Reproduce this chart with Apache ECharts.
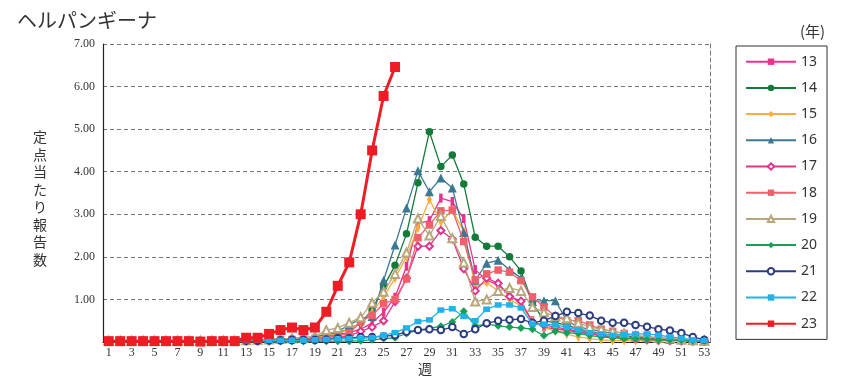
<!DOCTYPE html>
<html><head><meta charset="utf-8">
<script src="https://cdn.jsdelivr.net/npm/echarts@6/dist/echarts.min.js"></script>
<style>html,body{margin:0;padding:0;background:#fff}#c{width:850px;height:383px}</style>
</head><body><div id="c"></div>
<script>
const weeks = Array.from({length:53},(_,i)=>String(i+1));
const yTicks = [1,2,3,4,5,6,7];
const s13 = [0.02,0.02,0.02,0.02,0.02,0.02,0.02,0.02,0.02,0.02,0.02,0.02,0.03,0.03,0.04,0.05,0.06,0.07,0.1,0.13,0.18,0.22,0.3,0.45,0.7,1.05,1.78,2.78,2.85,3.38,3.3,2.9,1.7,1.45,1.35,1.1,0.9,0.5,0.35,0.3,0.28,0.22,0.2,0.15,0.12,0.1,0.08,0.07,0.05,0.05,0.04,0.03,0.02];
const s14 = [0.03,0.03,0.03,0.03,0.03,0.03,0.03,0.03,0.03,0.03,0.03,0.03,0.04,0.05,0.05,0.05,0.06,0.07,0.1,0.15,0.22,0.3,0.45,0.75,1.3,1.8,2.54,3.74,4.94,4.12,4.39,3.71,2.46,2.25,2.25,2.0,1.67,0.92,0.5,0.45,0.4,0.3,0.25,0.2,0.15,0.12,0.1,0.08,0.06,0.05,0.04,0.03,0.03];
const s15 = [0.03,0.03,0.03,0.03,0.03,0.03,0.03,0.03,0.03,0.03,0.03,0.03,0.04,0.05,0.06,0.07,0.08,0.09,0.1,0.15,0.2,0.3,0.45,0.7,1.06,1.5,2.0,2.68,3.35,2.82,3.1,2.6,1.3,1.4,1.2,1.0,0.85,0.5,0.35,0.25,0.18,0.12,0.08,0.05,0.03,0.03,0.03,0.03,0.03,0.03,0.02,0.02,0.02];
const s16 = [0.03,0.03,0.03,0.03,0.03,0.03,0.03,0.03,0.03,0.03,0.03,0.03,0.04,0.05,0.06,0.07,0.08,0.1,0.12,0.18,0.25,0.4,0.55,0.6,1.45,2.28,3.15,4.02,3.53,3.85,3.62,2.57,1.45,1.85,1.92,1.7,1.5,0.95,0.97,0.97,0.5,0.35,0.3,0.25,0.2,0.15,0.12,0.1,0.08,0.06,0.05,0.04,0.03];
const s17 = [0.02,0.02,0.02,0.02,0.02,0.02,0.02,0.02,0.02,0.02,0.02,0.02,0.03,0.03,0.03,0.04,0.05,0.05,0.06,0.08,0.1,0.15,0.25,0.35,0.5,0.95,1.5,2.25,2.25,2.62,2.42,1.72,1.2,1.5,1.38,1.07,0.96,0.45,0.4,0.35,0.3,0.25,0.2,0.15,0.12,0.1,0.08,0.06,0.05,0.04,0.03,0.02,0.02];
const s18 = [0.03,0.03,0.03,0.03,0.03,0.03,0.03,0.03,0.03,0.03,0.03,0.03,0.04,0.04,0.05,0.05,0.06,0.07,0.08,0.1,0.15,0.2,0.48,0.63,0.9,1.0,1.48,2.45,2.75,3.08,3.1,2.36,1.46,1.6,1.69,1.64,1.44,1.06,0.82,0.6,0.5,0.5,0.4,0.3,0.25,0.2,0.15,0.12,0.1,0.08,0.05,0.03,0.02];
const s19 = [0.03,0.03,0.03,0.03,0.03,0.03,0.03,0.03,0.03,0.03,0.03,0.03,0.04,0.05,0.06,0.07,0.08,0.1,0.12,0.28,0.33,0.45,0.58,0.92,1.18,1.6,2.1,2.9,2.5,2.96,2.44,1.87,0.95,1.0,1.2,1.27,1.2,0.82,0.7,0.6,0.56,0.45,0.35,0.3,0.25,0.2,0.15,0.12,0.1,0.08,0.06,0.04,0.03];
const s20 = [0.01,0.01,0.01,0.01,0.01,0.01,0.01,0.01,0.01,0.01,0.01,0.01,0.01,0.01,0.01,0.01,0.01,0.01,0.02,0.02,0.02,0.02,0.03,0.05,0.08,0.1,0.2,0.28,0.32,0.37,0.47,0.72,0.38,0.42,0.38,0.35,0.33,0.3,0.15,0.25,0.22,0.2,0.15,0.12,0.1,0.08,0.08,0.06,0.05,0.05,0.04,0.03,0.03];
const s21 = [0.02,0.02,0.02,0.02,0.02,0.02,0.02,0.02,0.02,0.02,0.02,0.02,0.03,0.03,0.04,0.04,0.05,0.05,0.05,0.06,0.09,0.09,0.12,0.12,0.13,0.16,0.24,0.28,0.3,0.28,0.35,0.19,0.3,0.44,0.5,0.52,0.54,0.45,0.5,0.61,0.71,0.68,0.62,0.5,0.45,0.45,0.4,0.36,0.3,0.27,0.21,0.12,0.05];
const s22 = [0.02,0.02,0.02,0.02,0.02,0.02,0.02,0.02,0.02,0.02,0.02,0.02,0.03,0.04,0.04,0.04,0.04,0.04,0.05,0.06,0.07,0.08,0.09,0.1,0.16,0.22,0.33,0.48,0.52,0.75,0.78,0.6,0.5,0.77,0.87,0.87,0.8,0.42,0.42,0.4,0.35,0.28,0.22,0.19,0.16,0.17,0.19,0.19,0.16,0.12,0.09,0.05,0.03];
const s23 = [0.02,0.02,0.02,0.02,0.02,0.02,0.02,0.02,0.01,0.02,0.02,0.02,0.1,0.1,0.19,0.28,0.34,0.28,0.34,0.71,1.32,1.87,3.0,4.5,5.78,6.46];

const defs = [
  {name:'13', data:s13, color:'#e8338c', symbol:'rect', size:[3.5,9], lw:1.3},
  {name:'14', data:s14, color:'#137a3a', symbol:'circle', size:7.5, lw:1.3},
  {name:'15', data:s15, color:'#f9ad3c', symbol:'diamond', size:[5,10], lw:1.3},
  {name:'16', data:s16, color:'#3d7893', symbol:'triangle', size:9, lw:1.3},
  {name:'17', data:s17, color:'#e0348d', symbol:'emptyDiamond', size:7, lw:1.3},
  {name:'18', data:s18, color:'#f0606c', symbol:'rect', size:7.5, lw:1.3},
  {name:'19', data:s19, color:'#b8a67c', symbol:'emptyTriangle', size:8, lw:1.3},
  {name:'20', data:s20, color:'#16a157', symbol:'diamond', size:8, lw:1.3},
  {name:'21', data:s21, color:'#2b3c80', symbol:'emptyCircle', size:6.5, lw:1.3},
  {name:'22', data:s22, color:'#22b2e8', symbol:'rect', size:[7,5.5], lw:1.3},
  {name:'23', data:s23, color:'#ee1c25', symbol:'rect', size:10, lw:3}
];

const series = defs.map((d,i)=>({
  name:d.name, type:'line', data:d.data, symbol:d.symbol, symbolSize:d.size,
  showAllSymbol:true, z: 2+i,
  lineStyle:{color:d.color, width:d.lw},
  itemStyle:{color:d.color, borderWidth: d.symbol.startsWith('empty')?1.1:0},
  emphasis:{disabled:true}, animation:false
}));

const chart = echarts.init(document.getElementById('c'));
chart.setOption({
  animation:false,
  grid:{left:103, right:140, top:44, bottom:41, containLabel:false},
  xAxis:{type:'category', data:weeks, boundaryGap:true,
    axisLine:{lineStyle:{color:'#222', width:1.2}},
    axisTick:{inside:true, alignWithLabel:true, interval:0, length:5, lineStyle:{color:'#555'}},
    axisLabel:{interval:1, margin:5, color:'#333', fontFamily:'Liberation Serif', fontSize:12},
    splitLine:{show:false}},
  yAxis:[{type:'value', min:0, max:7, interval:1,
    axisLine:{show:true, lineStyle:{color:'#222', width:1.2}},
    axisTick:{show:false},
    axisLabel:{color:'#333', fontFamily:'Liberation Serif', fontSize:12, margin:8,
      formatter:v=> yTicks.includes(v) ? v.toFixed(2) : ''},
    splitLine:{show:true, lineStyle:{color:'#777', type:[4,3], width:1}}},
    {type:'value', min:0, max:7, interval:1, position:'right',
    axisLine:{show:true, lineStyle:{color:'#777', type:[4,3], width:1}},
    axisTick:{show:false}, axisLabel:{show:false}, splitLine:{show:false}}],
  legend:{orient:'vertical', left:736, top:46, padding:[8.7,10,8.7,9],
    itemWidth:50, itemHeight:8, itemGap:12.2,
    borderColor:'#333', borderWidth:1,
    textStyle:{color:'#333', fontSize:14, lineHeight:14, fontFamily:'Noto Sans'},
    data:defs.map(d=>d.name)},
  graphic:[
    {type:'text', left:17, top:10, style:{text:'ヘルパンギーナ', fontSize:20, fill:'#333', fontFamily:'Noto Sans CJK JP'}},
    {type:'text', left:800, top:24, style:{text:'(年)', fontSize:15, fill:'#333', fontFamily:'Noto Sans CJK JP'}},
    {type:'text', left:418, top:362, style:{text:'週', fontSize:14, fill:'#333', fontFamily:'Noto Sans CJK JP'}},
    {type:'text', left:33, top:128, style:{text:'定\n点\n当\nた\nり\n報\n告\n数', fontSize:14, lineHeight:17.5, fill:'#333', fontFamily:'Noto Sans CJK JP'}}
  ],
  series:series
});
</script></body></html>
